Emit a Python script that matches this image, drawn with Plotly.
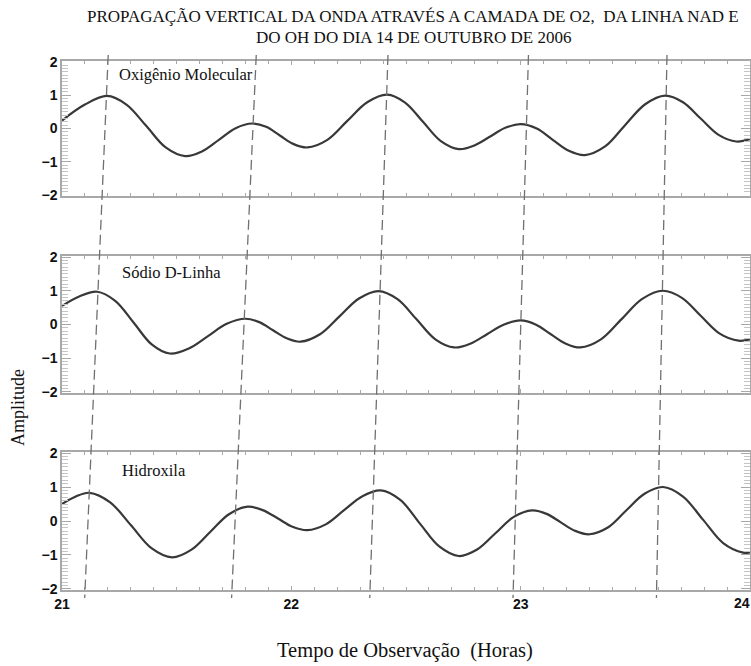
import plotly.graph_objects as go
from plotly.subplots import make_subplots

# ---- data ----
title_line1 = "PROPAGAÇÃO VERTICAL DA ONDA ATRAVÉS A CAMADA DE O2,  DA LINHA NAD E"
title_line2 = "DO OH DO DIA 14 DE OUTUBRO DE 2006"
panel_names = ["Oxigênio Molecular", "Sódio D-Linha", "Hidroxila"]

hours_o2 = [21.0, 21.1, 21.196, 21.281, 21.367, 21.452, 21.537, 21.61, 21.684, 21.757, 21.83,
            21.89, 21.95, 22.01, 22.07, 22.157, 22.244, 22.331, 22.418, 22.496, 22.574, 22.652,
            22.73, 22.798, 22.865, 22.933, 23.0, 23.07, 23.14, 23.21, 23.28, 23.368, 23.455,
            23.543, 23.63, 23.708, 23.785, 23.863, 23.94, 24.0]
amp_o2 = [0.24, 0.72, 0.98, 0.72, 0.08, -0.57, -0.83, -0.69, -0.34, 0.01, 0.15,
          0.05, -0.21, -0.47, -0.57, -0.34, 0.23, 0.79, 1.02, 0.78, 0.20, -0.38,
          -0.62, -0.51, -0.25, 0.02, 0.13, 0.00, -0.34, -0.67, -0.80, -0.54, 0.10,
          0.73, 0.99, 0.79, 0.30, -0.19, -0.39, -0.32]

hours_na = [21.0, 21.075, 21.153, 21.232, 21.312, 21.391, 21.47, 21.553, 21.635, 21.718, 21.8,
            21.86, 21.92, 21.98, 22.04, 22.125, 22.21, 22.295, 22.38, 22.463, 22.545, 22.628,
            22.71, 22.783, 22.855, 22.928, 23.0, 23.065, 23.13, 23.195, 23.26, 23.35, 23.44,
            23.53, 23.62, 23.703, 23.785, 23.868, 23.95, 24.0]
amp_na = [0.55, 0.83, 0.97, 0.70, 0.06, -0.59, -0.86, -0.71, -0.35, 0.02, 0.17,
          0.07, -0.17, -0.41, -0.51, -0.29, 0.24, 0.77, 0.99, 0.75, 0.16, -0.44,
          -0.68, -0.56, -0.28, 0.00, 0.12, 0.00, -0.28, -0.56, -0.68, -0.44, 0.16,
          0.76, 1.00, 0.79, 0.26, -0.27, -0.48, -0.44]

hours_oh = [21.0, 21.06, 21.12, 21.21, 21.30, 21.39, 21.48, 21.563, 21.645, 21.728, 21.81,
            21.875, 21.94, 22.005, 22.07, 22.15, 22.23, 22.31, 22.39, 22.475, 22.56, 22.645,
            22.73, 22.81, 22.89, 22.97, 23.05, 23.113, 23.175, 23.238, 23.3, 23.38, 23.46,
            23.54, 23.62, 23.708, 23.795, 23.883, 23.97, 24.0]
amp_oh = [0.50, 0.72, 0.83, 0.55, -0.12, -0.80, -1.07, -0.85, -0.33, 0.20, 0.42,
          0.32, 0.08, -0.17, -0.27, -0.10, 0.32, 0.73, 0.90, 0.62, -0.07, -0.75,
          -1.03, -0.84, -0.36, 0.12, 0.31, 0.21, -0.04, -0.29, -0.39, -0.19, 0.31,
          0.80, 1.00, 0.72, 0.04, -0.65, -0.93, -0.92]

# dashed propagation lines: time at top of figure (above O2 panel) and at bottom (below OH panel)
line_top_hours = [21.2015, 21.847, 22.4215, 23.034, 23.638]
line_bottom_hours = [21.099, 21.7395, 22.342, 22.9666, 23.592]

x_ticks = [21, 22, 23]
x_last_tick = 24
y_ticks = [-2, -1, 0, 1, 2]

# ---- layout geometry (pixels) ----
W, H = 751, 666
L, R, T, B = 62, 1, 59, 76
area_bot = H - B
area_h = H - B - T
area_w = W - L - R
panels_px = [(61, 196), (256, 393), (452, 590)]


def py(px):
    return (area_bot - px) / area_h


def px_x(px):
    return (px - L) / area_w


fig = make_subplots(rows=3, cols=1, shared_xaxes=False)

series = [(hours_o2, amp_o2), (hours_na, amp_na), (hours_oh, amp_oh)]
for i, (hx, hy) in enumerate(series):
    fig.add_trace(go.Scatter(x=hx, y=hy, mode="lines",
                             line=dict(color="#383838", width=2.2, shape="spline", smoothing=1.0),
                             showlegend=False, hoverinfo="skip"), row=i + 1, col=1)

frame_col = "#a8a8a8"
tick_font = dict(family="Liberation Sans", size=14, color="#111", weight="bold")
for i in range(3):
    r = i + 1
    fig.update_xaxes(row=r, col=1, range=[21, 24], domain=[0, 1], automargin=False,
                     showline=True, linecolor=frame_col, linewidth=1.5, mirror="ticks",
                     ticks="inside", ticklen=4, tickcolor=frame_col, tickvals=x_ticks,
                     showticklabels=(i == 2), tickfont=tick_font,
                     showgrid=False, zeroline=False,
                     minor=dict(ticks="inside", ticklen=3, dtick=0.1, tickcolor=frame_col, showgrid=False))
    top_px, bot_px = panels_px[i]
    fig.update_yaxes(row=r, col=1, range=[-2.03, 2.03], domain=[py(bot_px), py(top_px)],
                     automargin=False,
                     showline=True, linecolor=frame_col, linewidth=1.5, mirror="ticks",
                     ticks="inside", ticklen=9, tickcolor=frame_col, tickvals=y_ticks,
                     tickfont=tick_font, showgrid=False, zeroline=False,
                     minor=dict(ticks="inside", ticklen=6, dtick=0.1, tickcolor="#c4c4c4", showgrid=False))

annotations = []
# panel labels
label_pos = [(117, 75), (120, 272), (120, 470)]
for i, name in enumerate(panel_names):
    annotations.append(dict(text=name, xref="paper", yref="paper",
                            x=px_x(label_pos[i][0]), y=py(label_pos[i][1]),
                            xanchor="left", yanchor="middle", showarrow=False,
                            font=dict(family="Liberation Serif", size=16.5, color="#111")))

# last x tick label (sits inside the window edge as in the reference)
annotations.append(dict(text=str(x_last_tick), xref="paper", yref="paper", x=px_x(742), y=py(603),
                        xanchor="center", yanchor="middle", showarrow=False, font=tick_font))

# titles
annotations.append(dict(text=title_line1, xref="paper", yref="paper", x=px_x(413), y=py(16),
                        xanchor="center", yanchor="middle", showarrow=False,
                        font=dict(family="Liberation Serif", size=17, color="#111")))
annotations.append(dict(text=title_line2, xref="paper", yref="paper", x=px_x(413), y=py(37),
                        xanchor="center", yanchor="middle", showarrow=False,
                        font=dict(family="Liberation Serif", size=17, color="#111")))
annotations.append(dict(text="Amplitude", xref="paper", yref="paper", x=px_x(18), y=py(408),
                        textangle=-90, showarrow=False, xanchor="center", yanchor="middle",
                        font=dict(family="Liberation Serif", size=18, color="#111")))
annotations.append(dict(text="Tempo de Observação  (Horas)", xref="paper", yref="paper",
                        x=px_x(405), y=py(650), showarrow=False, xanchor="center", yanchor="middle",
                        font=dict(family="Liberation Serif", size=20.5, color="#111")))

# dashed propagation lines spanning all panels
for xt, xb in zip(line_top_hours, line_bottom_hours):
    fig.add_shape(type="line", xref="x3", yref="paper", x0=xt, y0=py(55), x1=xb, y1=py(598),
                  line=dict(color="#707070", width=1.3, dash="10px,5px"), layer="above")

fig.update_layout(
    width=W, height=H,
    margin=dict(l=L, r=R, t=T, b=B, autoexpand=False),
    plot_bgcolor="white", paper_bgcolor="white",
    annotations=annotations,
)

fig.write_html("out.html", config={"displayModeBar": False},
               post_script="document.body.style.margin='0px';document.body.style.overflow='hidden';")
